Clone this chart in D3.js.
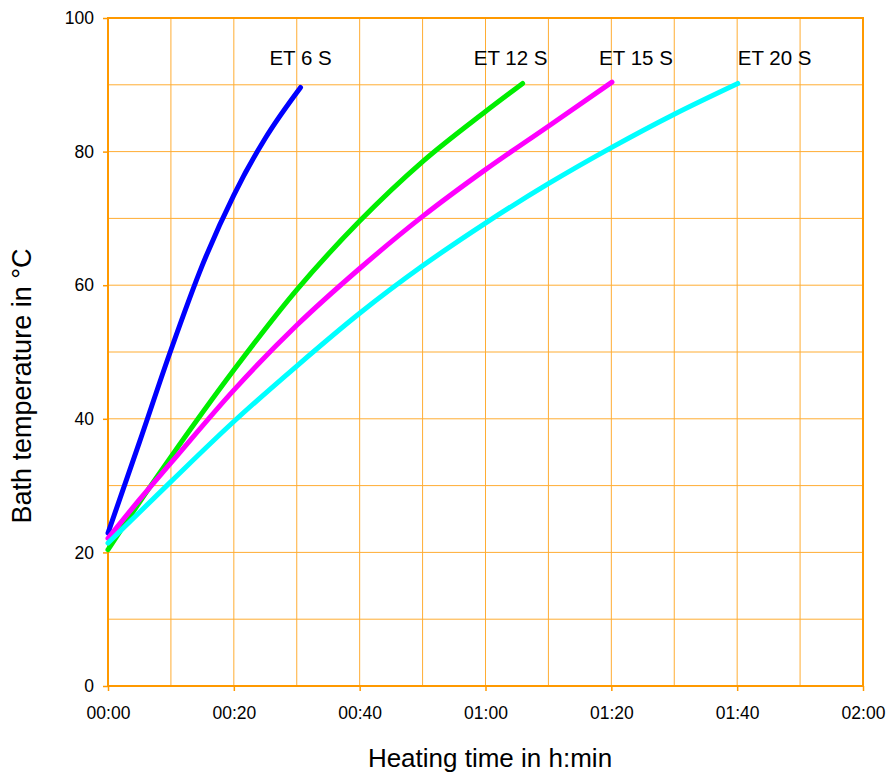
<!doctype html>
<head>
  <meta charset="utf-8">
  <script src="https://cdnjs.cloudflare.com/ajax/libs/d3/7.8.2/d3.min.js"></script>
</head>
<style>
    body { margin: 0; background: #ffffff; }
    svg { font-family: "Liberation Sans", Arial, sans-serif; }
</style>
<body>
    <div id="chart"></div>
    <script>
        // Datos: tiempo en minutos, temperatura en °C
        const seriesNames = ["ET 6 S", "ET 12 S", "ET 15 S", "ET 20 S"];
        const seriesColors = ["#0000ff", "#00ee00", "#ff00ff", "#00ffff"];
        const et6 = [[0, 22.9], [5, 36.5], [10, 50.3], [15, 63], [20, 73.5], [25, 82], [30.6, 89.6]];
        const et12 = [[0, 20.4], [5, 27.5], [10, 34.3], [20, 47.3], [30, 59.3], [40, 69.6], [50, 78.5], [60, 86], [65.9, 90.2]];
        const et15 = [[0, 22.1], [5, 27.9], [10, 33.4], [20, 44.3], [30, 54], [40, 62.5], [50, 70.3], [60, 77.3], [70, 83.8], [80.1, 90.4]];
        const et20 = [[0, 21.4], [10, 30.6], [20, 39.6], [30, 47.9], [40, 55.8], [50, 62.9], [60, 69.3], [70, 75.2], [80, 80.6], [90, 85.6], [100.1, 90.2]];
        const seriesData = [et6, et12, et15, et20];
        const xTicks = [0, 20, 40, 60, 80, 100, 120];
        const yTicks = [0, 20, 40, 60, 80, 100];

        const width = 888, height = 776;
        const margin = {left: 108, top: 18, right: 25, bottom: 90};
        const innerW = width - margin.left - margin.right;
        const innerH = height - margin.top - margin.bottom;

        const svg = d3.select('#chart')
            .append('svg')
            .attr('width', width)
            .attr('height', height);

        const g = svg.append('g')
            .attr('transform', `translate(${margin.left}, ${margin.top})`);

        const x = d3.scaleLinear().domain([0, 120]).range([0, innerW]);
        const y = d3.scaleLinear().domain([0, 100]).range([innerH, 0]);

        const fmtTime = (m) => `${String(Math.floor(m / 60)).padStart(2, '0')}:${String(m % 60).padStart(2, '0')}`;

        // Rejilla cada 10 min / 10 °C
        g.selectAll('.vgrid')
            .data(d3.range(10, 120, 10))
            .enter().append('line')
            .attr('x1', (d) => x(d)).attr('x2', (d) => x(d))
            .attr('y1', 0).attr('y2', innerH)
            .attr('stroke', '#ffad33').attr('stroke-width', 1);
        g.selectAll('.hgrid')
            .data(d3.range(10, 100, 10))
            .enter().append('line')
            .attr('x1', 0).attr('x2', innerW)
            .attr('y1', (d) => y(d)).attr('y2', (d) => y(d))
            .attr('stroke', '#ffad33').attr('stroke-width', 1);

        // Ejes
        const xAxis = g.append('g')
            .attr('transform', `translate(0, ${innerH})`)
            .call(d3.axisBottom(x).tickValues(xTicks).tickFormat(fmtTime).tickSize(5).tickPadding(16));
        const yAxis = g.append('g')
            .call(d3.axisLeft(y).tickValues(yTicks).tickSize(5).tickPadding(9));
        [xAxis, yAxis].forEach((ax) => {
            ax.select('.domain').remove();
            ax.selectAll('line').attr('stroke', '#ff9900').attr('stroke-width', 1.5);
            ax.selectAll('text').attr('fill', '#000').style('font-size', '17.5px')
                .style('font-family', '"Liberation Sans", Arial, sans-serif');
        });

        // Marco
        g.append('rect')
            .attr('x', 0).attr('y', 0)
            .attr('width', innerW).attr('height', innerH)
            .attr('fill', 'none')
            .attr('stroke', '#ff9900')
            .attr('stroke-width', 2);

        // Curvas
        const line = d3.line()
            .x((d) => x(d[0]))
            .y((d) => y(d[1]))
            .curve(d3.curveMonotoneX);

        g.selectAll('.curve')
            .data(seriesData)
            .enter().append('path')
            .attr('d', line)
            .attr('fill', 'none')
            .attr('stroke', (d, i) => seriesColors[i])
            .attr('stroke-width', 5)
            .attr('stroke-linecap', 'round');

        // Etiquetas de serie
        g.selectAll('.label')
            .data(seriesData)
            .enter().append('text')
            .attr('x', (d) => x(d[d.length - 1][0]))
            .attr('y', 47)
            .attr('text-anchor', (d, i) => i === 3 ? 'start' : 'middle')
            .attr('dx', (d, i) => i === 1 ? -12 : (i === 2 ? 24 : 0))
            .style('font-size', '20.5px')
            .text((d, i) => seriesNames[i]);

        // Títulos de ejes
        svg.append('text')
            .attr('x', 490).attr('y', 767)
            .attr('text-anchor', 'middle')
            .style('font-size', '26px')
            .text('Heating time in h:min');
        svg.append('text')
            .attr('transform', 'translate(31, 386) rotate(-90)')
            .attr('text-anchor', 'middle')
            .style('font-size', '27px')
            .text('Bath temperature in °C');
    </script>
</body>
